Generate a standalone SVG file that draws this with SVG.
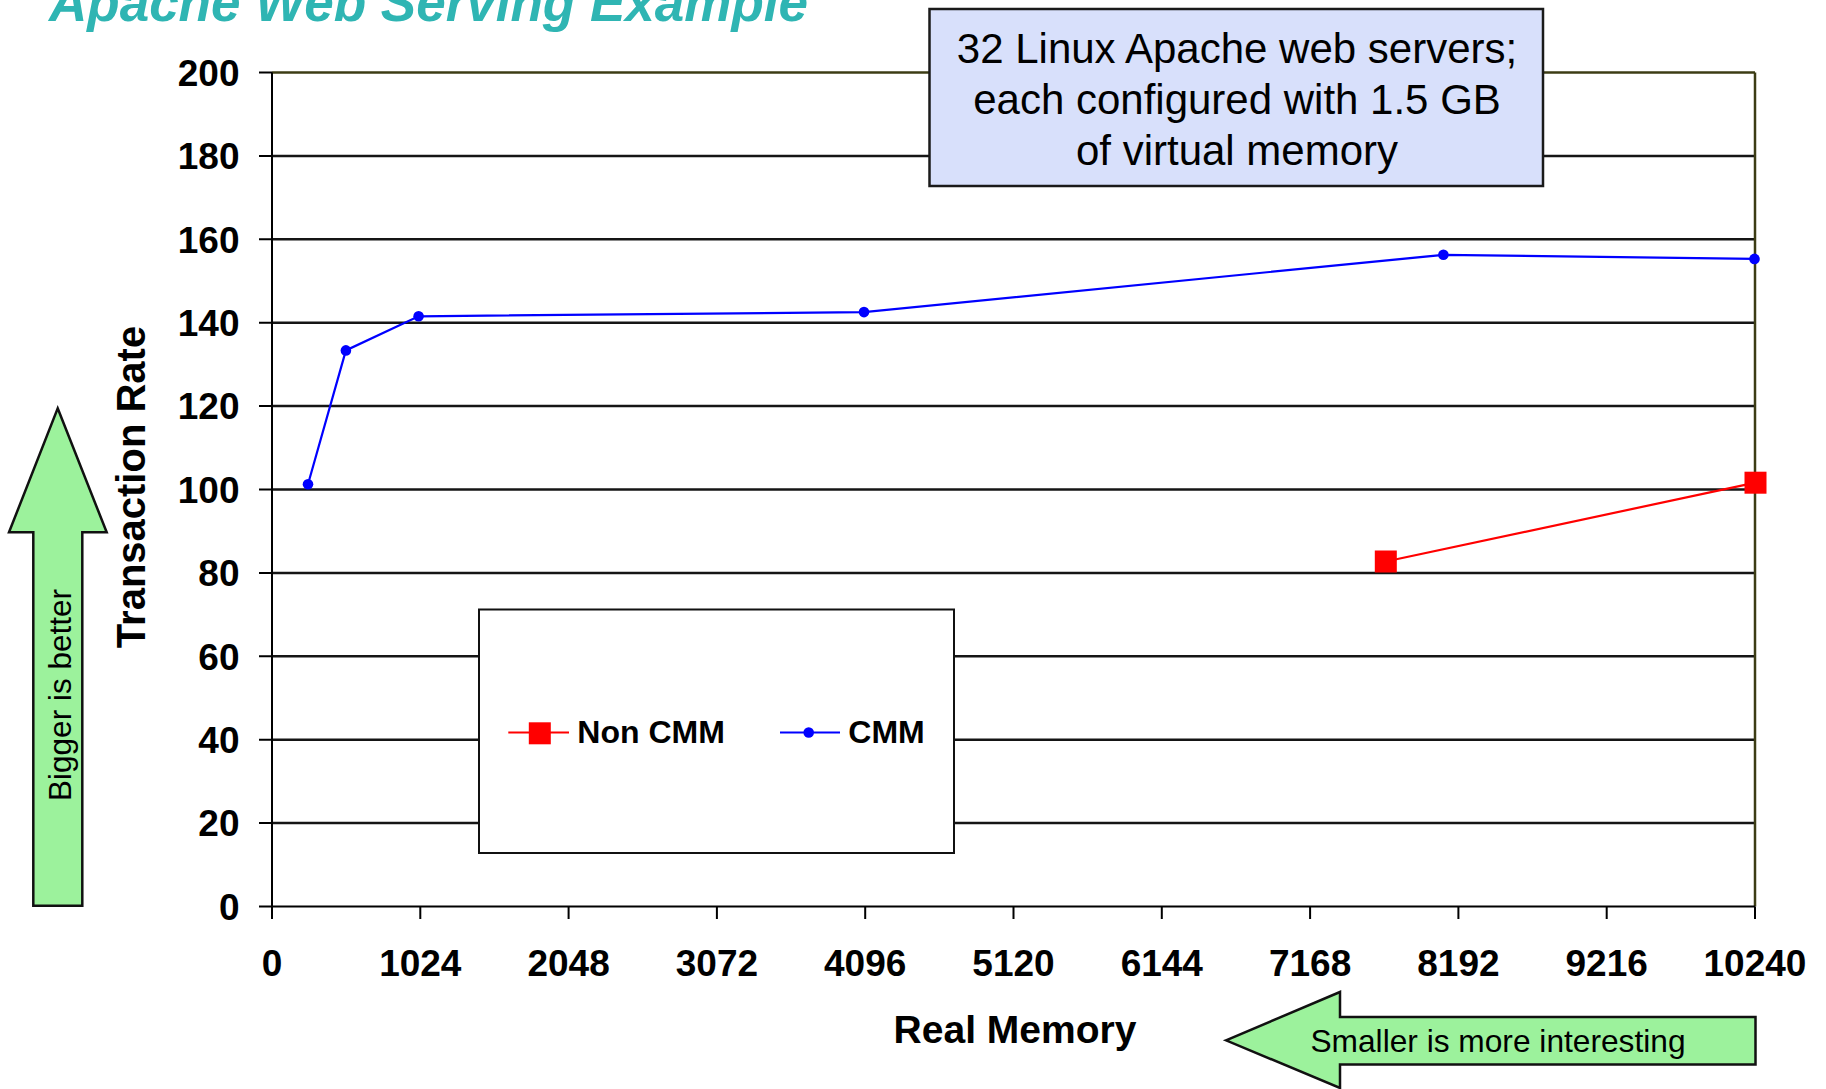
<svg xmlns="http://www.w3.org/2000/svg" width="1826" height="1089" viewBox="0 0 1826 1089">
<style>
.grid{stroke:#151515;stroke-width:2.5;fill:none}
.tick{stroke:#000;stroke-width:2;fill:none}
.frame{stroke:#3c3c14;stroke-width:2.5;fill:none}
.ylab{font-family:"Liberation Sans",Arial,sans-serif;font-weight:bold;font-size:37px;fill:#000;text-anchor:end}
.xlab{font-family:"Liberation Sans",Arial,sans-serif;font-weight:bold;font-size:37px;fill:#000;text-anchor:middle}
.axt{font-family:"Liberation Sans",Arial,sans-serif;font-weight:bold;fill:#000;text-anchor:middle}
.reg{font-family:"Liberation Sans",Arial,sans-serif;fill:#000}
.arrow{fill:#9cf29c;stroke:#111;stroke-width:2.5}
.cmm{stroke:#0000ff;stroke-width:2.2;fill:none}
.non{stroke:#ff0000;stroke-width:2.2;fill:none}
</style>
<defs>
<circle id="dot" r="5.3" fill="#0000ff"/>
<rect id="sq" x="-11" y="-11" width="22" height="22" fill="#ff0000"/>
</defs>
<rect width="1826" height="1089" fill="#fff"/>

<g id="title">
<text x="49" y="21" font-family="'Liberation Sans',Arial,sans-serif" font-weight="bold" font-style="italic" font-size="53" fill="#2fb5b3">Apache Web Serving Example</text>
</g>

<g id="plot-grid">
<line class="grid" x1="272" y1="823.1" x2="1755" y2="823.1"/>
<line class="grid" x1="272" y1="739.7" x2="1755" y2="739.7"/>
<line class="grid" x1="272" y1="656.3" x2="1755" y2="656.3"/>
<line class="grid" x1="272" y1="572.9" x2="1755" y2="572.9"/>
<line class="grid" x1="272" y1="489.5" x2="1755" y2="489.5"/>
<line class="grid" x1="272" y1="406.1" x2="1755" y2="406.1"/>
<line class="grid" x1="272" y1="322.7" x2="1755" y2="322.7"/>
<line class="grid" x1="272" y1="239.3" x2="1755" y2="239.3"/>
<line class="grid" x1="272" y1="155.9" x2="1755" y2="155.9"/>
<line class="frame" x1="272" y1="72.5" x2="1755" y2="72.5"/>
<line class="frame" x1="1755" y1="72.5" x2="1755" y2="906.5"/>
</g>

<g id="axes">
<line class="tick" x1="272" y1="72.5" x2="272" y2="919"/>
<line class="tick" x1="259" y1="906.5" x2="1755" y2="906.5"/>
<path class="tick" d="M259 72.5H272M259 155.9H272M259 239.3H272M259 322.7H272M259 406.1H272M259 489.5H272M259 572.9H272M259 656.3H272M259 739.7H272M259 823.1H272"/>
<path class="tick" d="M420.3 906.5V919M568.6 906.5V919M716.9 906.5V919M865.2 906.5V919M1013.5 906.5V919M1161.8 906.5V919M1310.1 906.5V919M1458.4 906.5V919M1606.7 906.5V919M1755 906.5V919"/>
<text class="ylab" x="239.5" y="85.8">200</text>
<text class="ylab" x="239.5" y="169.2">180</text>
<text class="ylab" x="239.5" y="252.6">160</text>
<text class="ylab" x="239.5" y="336">140</text>
<text class="ylab" x="239.5" y="419.4">120</text>
<text class="ylab" x="239.5" y="502.8">100</text>
<text class="ylab" x="239.5" y="586.2">80</text>
<text class="ylab" x="239.5" y="669.6">60</text>
<text class="ylab" x="239.5" y="753">40</text>
<text class="ylab" x="239.5" y="836.4">20</text>
<text class="ylab" x="239.5" y="919.8">0</text>
<text class="xlab" x="272" y="975.5">0</text>
<text class="xlab" x="420.3" y="975.5">1024</text>
<text class="xlab" x="568.6" y="975.5">2048</text>
<text class="xlab" x="716.9" y="975.5">3072</text>
<text class="xlab" x="865.2" y="975.5">4096</text>
<text class="xlab" x="1013.5" y="975.5">5120</text>
<text class="xlab" x="1161.8" y="975.5">6144</text>
<text class="xlab" x="1310.1" y="975.5">7168</text>
<text class="xlab" x="1458.4" y="975.5">8192</text>
<text class="xlab" x="1606.7" y="975.5">9216</text>
<text class="xlab" x="1755" y="975.5">10240</text>
<text class="axt" x="1015" y="1043" font-size="39">Real Memory</text>
<text class="axt" transform="translate(145,487) rotate(-90)" font-size="40">Transaction Rate</text>
</g>

<g id="legend">
<rect x="479" y="609.5" width="475" height="243.5" fill="#fff" stroke="#111" stroke-width="2"/>
<line class="non" x1="508.3" y1="732.5" x2="569" y2="732.5"/>
<use href="#sq" x="539.8" y="733.3"/>
<text class="reg" x="577.3" y="743.3" font-size="32" font-weight="bold">Non CMM</text>
<line class="cmm" x1="780" y1="732.5" x2="840" y2="732.5"/>
<use href="#dot" x="808.7" y="732.5"/>
<text class="reg" x="848.3" y="743.3" font-size="32" font-weight="bold">CMM</text>
</g>

<g id="connectors">
<polyline class="cmm" points="308,484.2 345.9,350.4 418.6,316.3 864,312.1 1443.4,254.8 1754.5,258.9"/>
<polyline class="non" points="1385.8,561.5 1755.5,482.7"/>
</g>

<g id="series-cmm">
<use href="#dot" x="308" y="484.2"/>
<use href="#dot" x="345.9" y="350.4"/>
<use href="#dot" x="418.6" y="316.3"/>
<use href="#dot" x="864" y="312.1"/>
<use href="#dot" x="1443.4" y="254.8"/>
<use href="#dot" x="1754.5" y="258.9"/>
</g>

<g id="series-non-cmm">
<use href="#sq" x="1385.8" y="561.5"/>
<use href="#sq" x="1755.5" y="482.7"/>
</g>

<g id="note">
<rect x="929.5" y="9" width="613.5" height="177" fill="#d8e0fb" stroke="#1a1a1a" stroke-width="2.5"/>
<text class="reg" font-size="42" text-anchor="middle" x="1237" y="62.5">32 Linux Apache web servers;</text>
<text class="reg" font-size="42" text-anchor="middle" x="1237" y="113.5">each configured with 1.5 GB</text>
<text class="reg" font-size="42" text-anchor="middle" x="1237" y="164.5">of virtual memory</text>
</g>

<g id="bigger-arrow">
<polygon class="arrow" points="57.7,408.3 106.7,532.3 82.3,532.3 82.3,905.7 33.3,905.7 33.3,532.3 9,532.3"/>
<text class="reg" font-size="31.5" text-anchor="middle" transform="translate(70.5,695) rotate(-90)">Bigger is better</text>
</g>

<g id="smaller-arrow">
<polygon class="arrow" points="1226,1040.3 1340,992 1340,1017 1755.5,1017 1755.5,1064.5 1340,1064.5 1340,1088"/>
<text class="reg" font-size="31.7" text-anchor="middle" x="1498" y="1052">Smaller is more interesting</text>
</g>
</svg>
